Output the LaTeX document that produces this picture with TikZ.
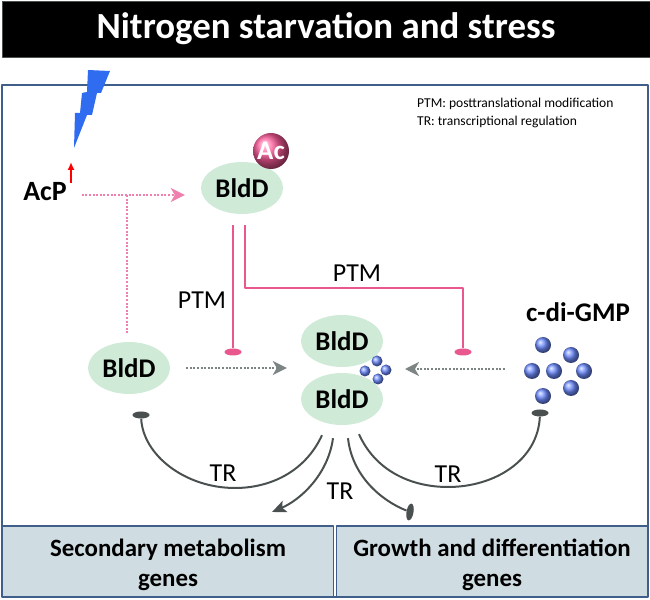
\documentclass[tikz,border=0pt]{standalone}
\usepackage{fontspec}
\setmainfont{Carlito}
\usetikzlibrary{positioning,shapes.geometric,arrows.meta}
\definecolor{framec}{HTML}{3F5F8A}
\definecolor{boxc}{HTML}{CFDDE2}
\definecolor{bldc}{HTML}{CFEBD7}
\definecolor{ptmc}{HTML}{E8588F}
\definecolor{acc}{HTML}{FF5C9C}
\definecolor{dotc}{HTML}{EF7FAC}
\definecolor{grayc}{HTML}{7C8484}
\definecolor{trc}{HTML}{4A5050}
\definecolor{ballc}{HTML}{6E8CFF}
\definecolor{boltc}{HTML}{2F6CF0}
\tikzset{
  bldD/.style={ellipse,fill=bldc,minimum width=82bp,minimum height=52bp,inner sep=0pt,font=\fontsize{27}{27}\selectfont\bfseries},
  bar/.style={ellipse,minimum width=17bp,minimum height=7bp,inner sep=0pt},
  ball/.style={circle,shading=ball,ball color=ballc,minimum size=#1,inner sep=0pt},
  genes/.style={draw=framec,line width=1.8pt,fill=boxc,align=center,inner sep=0pt,font=\fontsize{25}{30}\selectfont\bfseries},
  pinkdot/.style={dotc,line width=2pt,dash pattern=on 2pt off 1.6pt},
  greydot/.style={grayc,line width=2pt,dash pattern=on 2pt off 1.6pt},
  ptm/.style={ptmc,line width=2.2pt},
  tr/.style={trc,line width=2pt},
  lab/.style={font=\fontsize{26}{26}\selectfont},
}
\begin{document}
\begin{tikzpicture}[>=latex,line join=bevel,]
%%
\useasboundingbox (0bp,0bp) rectangle (650bp,600bp);
  \draw [framec,line width=2.4pt] (2bp,3bp) rectangle (648bp,515bp);
  \node (title) at (326bp,571bp) [draw=trc,fill=black,text=white,minimum width=648bp,minimum height=56bp,font=\fontsize{37}{37}\selectfont\bfseries] {Nitrogen starvation and stress};
  \node (secondary) at (168bp,38.5bp) [genes,minimum width=331bp,minimum height=71bp] {\rule{0pt}{25bp}Secondary metabolism\\genes};
  \node (growth) at (492bp,38.5bp) [genes,minimum width=311bp,minimum height=71bp] {\rule{0pt}{25bp}Growth and differentiation\\genes};
%
  \fill [boltc] (88bp,530bp) -- (110bp,529bp) -- (101bp,507bp) -- (97bp,507bp) -- (92bp,485bp) -- (87bp,485bp) -- (74bp,452bp) -- (75bp,487bp) -- (80bp,487bp) -- (82bp,507bp) -- (87bp,508bp) -- cycle;
%
  \node (acp) at (45bp,408bp) [inner sep=0pt,font=\fontsize{28}{28}\selectfont\bfseries] {AcP};
  \node (bldDac) at (242bp,412bp) [bldD] {BldD};
  \node (ac) at (271bp,449bp) [ball=36bp,ball color=acc,text=white,font=\fontsize{27}{27}\selectfont\bfseries] {Ac};
  \node (bldDfree) at (129bp,232bp) [bldD] {BldD};
  \node (bldDup) at (342bp,259bp) [bldD] {BldD};
  \node (bldDlow) at (342bp,201bp) [bldD] {BldD};
  \node (gmp) at (578bp,288bp) [font=\fontsize{27}{27}\selectfont\bfseries] {c-di-GMP};
%
  \node (s1) at (377bp,239bp) [ball=11bp] {};
  \node (s2) at (365bp,229bp) [ball=11bp] {};
  \node (s3) at (386bp,230bp) [ball=11bp] {};
  \node (s4) at (378bp,221bp) [ball=11bp] {};
%
  \node (g1) at (543bp,255bp) [ball=16bp] {};
  \node (g2) at (571bp,245bp) [ball=16bp] {};
  \node (g3) at (532bp,229bp) [ball=16bp] {};
  \node (g4) at (554bp,229bp) [ball=16bp] {};
  \node (g5) at (584bp,229bp) [ball=16bp] {};
  \node (g6) at (571bp,212bp) [ball=16bp] {};
  \node (g7) at (543bp,204bp) [ball=16bp] {};
%
  \node (barleft) at (233bp,248bp) [bar,fill=ptmc] {};
  \node (barright) at (463bp,248bp) [bar,fill=ptmc] {};
  \node (barfree) at (141bp,185bp) [bar,fill=trc] {};
  \node (bargmp) at (540bp,187bp) [bar,fill=trc] {};
  \node (bargrowth) at (410bp,88bp) [bar,fill=trc,rotate=80] {};
%
  \node (ptm1) at (202bp,300bp) [lab] {PTM};
  \node (ptm2) at (357bp,327bp) [lab] {PTM};
  \node (tr1) at (223bp,127bp) [lab] {TR};
  \node (tr2) at (340bp,109bp) [lab] {TR};
  \node (tr3) at (448bp,126bp) [lab] {TR};
  \node (ptmnote) at (417bp,496bp) [anchor=west,inner sep=0pt,font=\fontsize{13.6}{13.6}\selectfont] {PTM: posttranslational modification};
  \node (trnote) at (417bp,478bp) [anchor=west,inner sep=0pt,font=\fontsize{13.6}{13.6}\selectfont] {TR: transcriptional regulation};
%
  \coordinate (tee) at (127bp,405bp);
  \coordinate (acpup) at (71bp,438bp);
  \coordinate (corner) at (463bp,312bp);
  \coordinate (gmphead) at (405bp,231bp);
  \draw [red,line width=1.6pt,-{Latex[length=8bp,width=7bp]}] (acpup |- acp.north) -- (acpup);
  \draw [pinkdot,-{Stealth[length=14bp,width=14bp,inset=4bp]},shorten <=15bp,shorten >=16bp] (tee -| acp.east) -- (tee -| bldDac.west);
  \draw [pinkdot,shorten >=8bp] (tee) -- (tee |- bldDfree.north);
  \draw [greydot,-{Stealth[length=14bp,width=14bp,inset=4bp]},shorten <=16bp,shorten >=14bp] (bldDfree.east) -- (bldDfree.east -| bldDup.west);
  \draw [greydot,-{Stealth[length=14bp,width=14bp,inset=4bp]},shorten <=19bp] (g3.west |- gmphead) -- (gmphead);
%
  \draw [ptm] ([shift={(-9bp,-11bp)}]bldDac.south) -- (barleft);
  \draw [ptm] ([shift={(3bp,-11bp)}]bldDac.south) -- ([xshift=3bp]bldDac.south |- corner) -- (corner) -- (barright);
%
  \draw [tr] ([shift={(-20bp,-10bp)}]bldDlow.south) ..controls (305bp,128bp) and (270bp,112bp)  .. (235bp,112bp) ..controls (185bp,112bp) and (143bp,145bp)  .. (barfree);
  \draw [tr] ([shift={(17bp,-9bp)}]bldDlow.south) ..controls (375bp,130bp) and (410bp,113bp)  .. (448bp,113bp) ..controls (495bp,113bp) and (538bp,140bp)  .. (bargmp);
  \draw [tr,-{Stealth[length=14bp,width=12bp,inset=3bp]}] ([shift={(-9bp,-13bp)}]bldDlow.south) ..controls (328bp,125bp) and (300bp,100bp)  .. (272bp,88bp);
  \draw [tr] ([shift={(6bp,-13bp)}]bldDlow.south) ..controls (352bp,125bp) and (380bp,100bp)  .. (bargrowth);
%
\end{tikzpicture}
\end{document}
